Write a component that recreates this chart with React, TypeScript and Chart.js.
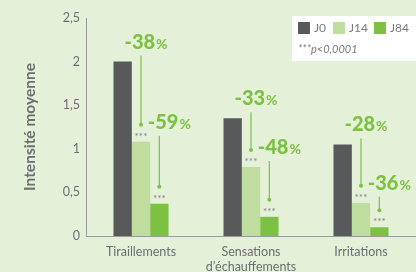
import React, { useEffect, useRef } from "react";
import { Chart, registerables } from "chart.js";

Chart.register(...registerables);

const categories = [["Tiraillements"], ["Sensations", "d’échauffements"], ["Irritations"]];
const seriesNames = ["J0", "J14", "J84"];
const valuesJ0 = [2.0, 1.35, 1.05];
const valuesJ14 = [1.08, 0.79, 0.38];
const valuesJ84 = [0.37, 0.22, 0.1];
const reductionJ14 = ["-38", "-33", "-28"];
const reductionJ84 = ["-59", "-48", "-36"];
const yTicks = [0, 0.5, 1, 1.5, 2, 2.5];
const significance = "***";
const footnote = "***p<0,0001";
const yTitle = "Intensité moyenne";

const colors = ["#58595b", "#bfdd9f", "#7cc142"];
const BG = "#e4f0d8";
const TEXT = "#6d6e71";
const GREEN = "#7cc142";
const FONT = "Lato, 'Open Sans', sans-serif";

const annotationPlugin = {
  id: "annotations",
  beforeDraw(chart: any) {
    const { ctx, width, height } = chart;
    ctx.save();
    ctx.fillStyle = BG;
    ctx.fillRect(0, 0, width, height);
    ctx.restore();
  },
  afterDatasetsDraw(chart: any) {
    const { ctx } = chart;
    const reductions = [null, reductionJ14, reductionJ84];
    ctx.save();
    for (let i = 1; i < 3; i++) {
      const meta = chart.getDatasetMeta(i);
      const prevMeta = chart.getDatasetMeta(i - 1);
      meta.data.forEach((bar: any, j: number) => {
        const prev = prevMeta.data[j];
        const x = bar.x;
        ctx.fillStyle = "#858585";
        ctx.font = `10px ${FONT}`;
        ctx.textAlign = "center";
        ctx.textBaseline = "middle";
        ctx.fillText(significance, x, bar.y - 5);
        const baseline = prev.y - 13;
        const num = (reductions[i] as string[])[j];
        ctx.font = `900 20px ${FONT}`;
        const wNum = ctx.measureText(num).width;
        ctx.font = `700 14px ${FONT}`;
        const wPct = ctx.measureText("%").width;
        const cx = x + (i === 1 ? 5 : 10);
        const sx = cx - (wNum + wPct + 1) / 2;
        ctx.textAlign = "left";
        ctx.textBaseline = "alphabetic";
        ctx.fillStyle = GREEN;
        ctx.font = `900 20px ${FONT}`;
        ctx.fillText(num, sx, baseline);
        ctx.font = `700 14px ${FONT}`;
        ctx.fillText("%", sx + wNum + 1, baseline);
        const dotY = bar.y - 17;
        ctx.strokeStyle = GREEN;
        ctx.lineWidth = 1.2;
        ctx.beginPath();
        ctx.moveTo(x, baseline + 7);
        ctx.lineTo(x, dotY);
        ctx.stroke();
        ctx.beginPath();
        ctx.arc(x, dotY, 2, 0, Math.PI * 2);
        ctx.fill();
      });
    }
    ctx.restore();
  },
  afterDraw(chart: any) {
    const { ctx, width } = chart;
    ctx.save();
    const bx = 292, by = 16;
    ctx.fillStyle = "#ffffff";
    ctx.fillRect(bx, by, width - bx, 45);
    const xs = [298, 333, 374];
    chart.data.datasets.forEach((ds: any, i: number) => {
      ctx.fillStyle = ds.backgroundColor;
      ctx.fillRect(xs[i], 22, 12, 12);
      ctx.fillStyle = "#7a7a7a";
      ctx.font = `12px ${FONT}`;
      ctx.textAlign = "left";
      ctx.textBaseline = "middle";
      ctx.fillText(ds.label, xs[i] + 16, 28.5);
    });
    ctx.font = `italic 11px ${FONT}`;
    ctx.fillStyle = "#7a7a7a";
    ctx.fillText(footnote, 298, 49);
    ctx.restore();
  },
};

export default function App() {
  const ref = useRef<HTMLCanvasElement>(null);
  useEffect(() => {
    document.body.style.margin = "0";
    Chart.defaults.font.family = FONT;
    const chart = new Chart(ref.current as HTMLCanvasElement, {
      type: "bar",
      data: {
        labels: categories as any,
        datasets: [valuesJ0, valuesJ14, valuesJ84].map((d, i) => ({
          label: seriesNames[i],
          data: d,
          backgroundColor: colors[i],
          borderWidth: 0,
          categoryPercentage: 0.5,
          barPercentage: 1,
        })),
      },
      options: {
        animation: false,
        responsive: false,
        maintainAspectRatio: false,
        layout: { padding: { top: 18, left: 0, right: 0, bottom: 0 } },
        plugins: { legend: { display: false }, tooltip: { enabled: false } },
        scales: {
          x: {
            grid: { display: false, drawTicks: false },
            border: { display: true, color: "#9a9a9a", width: 1 },
            ticks: { color: TEXT, font: { size: 12.5, family: FONT }, padding: 8, maxRotation: 0, autoSkip: false },
            afterFit: (s: any) => { s.height = 36; },
          },
          y: {
            min: 0,
            max: 2.5,
            grid: { display: false, drawTicks: false },
            border: { display: true, color: "#9a9a9a", width: 1 },
            afterBuildTicks: (s: any) => { s.ticks = yTicks.map((v) => ({ value: v })); },
            ticks: {
              color: TEXT,
              font: { size: 12.5, family: FONT },
              padding: 6,
              callback: (v: any) => String(v).replace(".", ","),
            },
            title: {
              display: true,
              text: yTitle,
              color: TEXT,
              font: { size: 15.5, weight: "bold", family: FONT },
              padding: { top: 21, bottom: 0 },
            },
            afterFit: (s: any) => { s.width = 86; },
          },
        },
      },
      plugins: [annotationPlugin],
    });
    return () => chart.destroy();
  }, []);
  return (
    <div style={{ position: "fixed", left: 0, top: 0, width: 416, height: 272, background: BG }}>
      <canvas ref={ref} width={416} height={272} style={{ display: "block" }} />
    </div>
  );
}
